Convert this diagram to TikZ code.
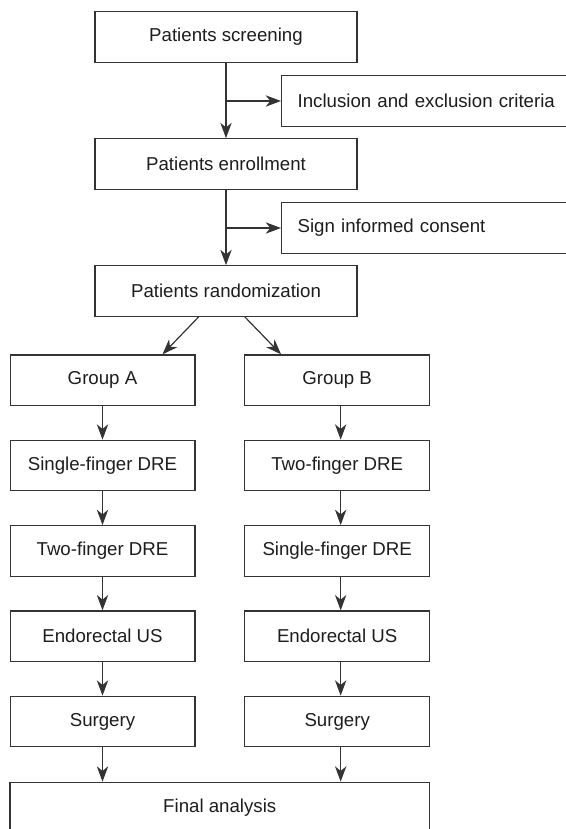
\documentclass[tikz,border=0pt]{standalone}
\usepackage{fontspec}
\setmainfont{Liberation Sans}
\usetikzlibrary{arrows.meta}
\definecolor{boxline}{RGB}{51,51,51}
\definecolor{boxtext}{RGB}{30,28,29}
\tikzset{every picture/.style={line width=0.9pt}}
\tikzset{
	flowbox/.style={draw=boxline, text=boxtext, inner sep=0pt,
		minimum height=37.9pt, font=\fontsize{14}{17}\selectfont},
	mainbox/.style={flowbox, minimum width=196.5pt},
	colbox/.style={flowbox, minimum width=138.6pt},
	sidebox/.style={flowbox, anchor=west, text width=223.5pt, align=left, inner xsep=12pt},
	flowarrow/.style={draw=boxline, -{Stealth[length=11.5pt,width=8.5pt,inset=3.5pt]}}}

\begin{document}
\begin{tikzpicture}[x=0.75pt,y=0.75pt,yscale=-1,xscale=1]
	\useasboundingbox (0,0) rectangle (566,829);
	\clip (0,0) rectangle (566,829);

	%Shape: Rectangle [main column]
	\node[mainbox] (screen) at (226,37) {Patients screening};
	\node[mainbox] (enroll) at (226,164) {Patients enrollment};
	\node[mainbox] (random) at (226,291) {Patients randomization};
	%Shape: Rectangle [side boxes, cut at the right edge]
	\node[sidebox] (incl) at (281,101) {Inclusion and exclusion criteria};
	\node[sidebox] (consent) at (281,228) {Sign informed consent};

	%Shape: Rectangle [group A]
	\node[colbox] (a1) at (102.5,380.2) {Group A};
	\node[colbox] (a2) at (102.5,465.5) {Single-finger DRE};
	\node[colbox] (a3) at (102.5,550.9) {Two-finger DRE};
	\node[colbox] (a4) at (102.5,636.2) {Endorectal US};
	\node[colbox] (a5) at (102.5,721.5) {Surgery};
	%Shape: Rectangle [group B]
	\node[colbox] (b1) at (337.2,380.2) {Group B};
	\node[colbox] (b2) at (337.2,465.5) {Two-finger DRE};
	\node[colbox] (b3) at (337.2,550.9) {Single-finger DRE};
	\node[colbox] (b4) at (337.2,636.2) {Endorectal US};
	\node[colbox] (b5) at (337.2,721.5) {Surgery};

	%Shape: Rectangle [bottom, cut at the lower edge]
	\node[flowbox, minimum width=314.6pt] (final) at (219.75,807.5) {Final analysis};

	%Straight Lines [main column]
	\coordinate (br1) at (226,101);
	\coordinate (br2) at (226,228);
	\draw[flowarrow] (screen) -- (enroll);
	\draw[flowarrow] (br1) -- (incl);
	\draw[flowarrow] (enroll) -- (random);
	\draw[flowarrow] (br2) -- (consent);

	%Straight Lines [randomization split]
	\draw[flowarrow] ([xshift=-20.5pt]random.south) -- ([xshift=45pt]a1.north);
	\draw[flowarrow] ([xshift=14.1pt]random.south) -- ([xshift=-42.1pt]b1.north);

	%Straight Lines [group A]
	\draw[flowarrow] (a1) -- (a2);
	\draw[flowarrow] (a2) -- (a3);
	\draw[flowarrow] (a3) -- (a4);
	\draw[flowarrow] (a4) -- (a5);
	\draw[flowarrow] (a5) -- (a5 |- final.north);
	%Straight Lines [group B]
	\draw[flowarrow] ([xshift=2.6pt]b1.south) -- ([xshift=2.6pt]b2.north);
	\draw[flowarrow] ([xshift=2.6pt]b2.south) -- ([xshift=2.6pt]b3.north);
	\draw[flowarrow] ([xshift=2.6pt]b3.south) -- ([xshift=2.6pt]b4.north);
	\draw[flowarrow] ([xshift=2.6pt]b4.south) -- ([xshift=2.6pt]b5.north);
	\draw[flowarrow] ([xshift=2.6pt]b5.south) -- ([xshift=2.6pt]b5.south |- final.north);

\end{tikzpicture}
\end{document}
